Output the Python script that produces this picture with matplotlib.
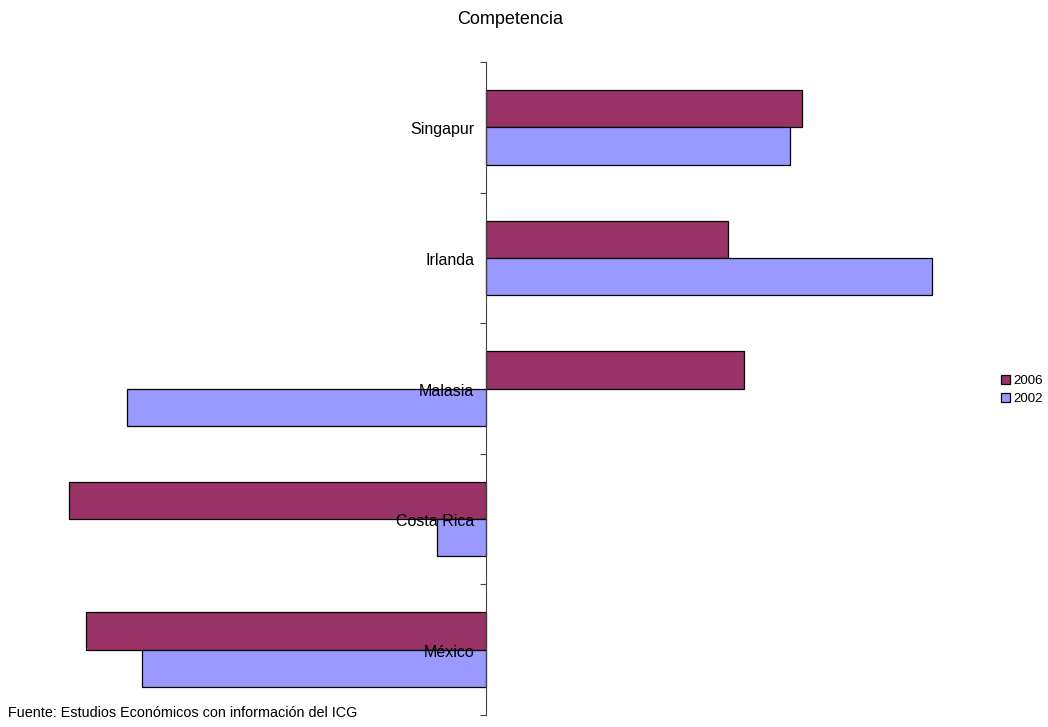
import matplotlib
matplotlib.use("Agg")
import matplotlib.pyplot as plt
import numpy as np

plt.rcParams['font.family'] = ['Liberation Sans', 'DejaVu Sans']

categories = ["Singapur", "Irlanda", "Malasia", "Costa Rica", "México"]
values_2006 = [316, 242, 258, -417, -400]
values_2002 = [304, 446, -359, -49, -344]
series_names = ["2006", "2002"]
title = "Competencia"
source = "Fuente: Estudios Económicos con información del ICG"

W, H = 1048, 727
fig = plt.figure(figsize=(W / 100, H / 100), dpi=100)
ax_left, ax_right = 40, 960
ax_top, ax_bottom = 62, 715
ax = fig.add_axes([ax_left / W, 1 - ax_bottom / H, (ax_right - ax_left) / W, (ax_bottom - ax_top) / H])

n = len(categories)
y = np.arange(n) + 0.5
h = 1 / 3.5
b1 = ax.barh(y - h / 2, values_2006, height=h, color="#993366", edgecolor="black", linewidth=0.9, label=series_names[0])
b2 = ax.barh(y + h / 2, values_2002, height=h, color="#9999FF", edgecolor="black", linewidth=0.9, label=series_names[1])

ax.set_xlim(ax_left - 486, ax_right - 486)
ax.set_ylim(n, 0)
for s in ["top", "right", "bottom"]:
    ax.spines[s].set_visible(False)
ax.spines["left"].set_position(("data", 0))
ax.spines["left"].set_color("#444444")
ax.set_yticks(np.arange(n + 1))
ax.set_yticklabels([])
ax.tick_params(axis="y", direction="out", length=4, color="#444444")
ax.set_xticks([])

for yi, lab in zip(y, categories):
    ax.text(-12, yi + 0.02, lab, ha="right", va="center", fontsize=11.5)

fig.text(510 / W, 1 - 19 / H, title, ha="center", va="center", fontsize=13)
fig.text(8 / W, 1 - 713 / H, source, ha="left", va="center", fontsize=10.4)

fig.legend(handles=[b1, b2], labels=series_names, loc="center left",
           bbox_to_anchor=(1001 / W, 1 - 390 / H), frameon=False, fontsize=9.6,
           handlelength=0.65, handleheight=0.65, handletextpad=0.25, labelspacing=0.45,
           borderpad=0, borderaxespad=0)

fig.savefig("out.png", dpi=100)
